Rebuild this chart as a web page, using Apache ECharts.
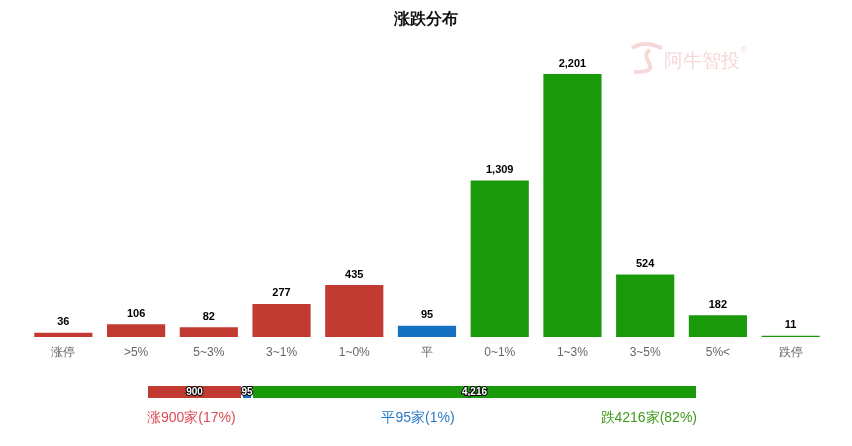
<!DOCTYPE html>
<html><head><meta charset="utf-8">
<script src="https://cdn.jsdelivr.net/npm/echarts@6/dist/echarts.min.js"></script>
<style>html,body{margin:0;padding:0;background:#fff}#c{width:852px;height:446px}</style>
</head><body><div id="c"></div>
<script>
var categories = ['涨停','>5%','5~3%','3~1%','1~0%','平','0~1%','1~3%','3~5%','5%<','跌停'];
var values = [36,106,82,277,435,95,1309,2201,524,182,11];
var groups = ['red','red','red','red','red','blue','green','green','green','green','green'];
var summaryNames = ['涨','平','跌'];
var summaryValues = [900,95,4216];
var summaryPct = ['17%','1%','82%'];

var RED='#c23b32', BLUE='#1471bf', GREEN='#1a9a0a';
var colorOf={red:RED,blue:BLUE,green:GREEN};
function fmt(v){return Number(v).toLocaleString('en-US');}

var chart = echarts.init(document.getElementById('c'));
var sumColors=[RED,BLUE,GREEN];
var summarySeries = summaryValues.map(function(v,i){
  return {type:'bar',stack:'s',xAxisIndex:1,yAxisIndex:1,barWidth:14,
    data:[v],itemStyle:{color:sumColors[i],borderColor:'#fff',borderWidth:1},
    label:{show:true,position:'inside',formatter:function(p){return fmt(p.value);},
      color:'#fff',fontSize:10,fontWeight:'bold',textBorderColor:'#000',textBorderWidth:2},
    silent:true,animation:false};
});
chart.setOption({
  animation:false,
  title:{text:'涨跌分布',left:'center',top:7,textStyle:{fontSize:16,fontWeight:'bold',color:'#111'}},
  grid:[{left:27,right:25,top:74,bottom:109},{left:147,width:550,top:385,height:14}],
  xAxis:[
    {type:'category',data:categories,gridIndex:0,axisLine:{show:false},axisTick:{show:false},
      axisLabel:{color:'#666',fontSize:12,margin:10}},
    {type:'value',gridIndex:1,min:0,max:summaryValues.reduce(function(a,b){return a+b;},0),show:false}
  ],
  yAxis:[
    {type:'value',gridIndex:0,min:0,max:function(v){return v.max;},show:false},
    {type:'category',gridIndex:1,data:['a'],show:false}
  ],
  series:[{type:'bar',xAxisIndex:0,yAxisIndex:0,barWidth:'80%',
    data:values.map(function(v,i){return {value:v,itemStyle:{color:colorOf[groups[i]]}};}),
    label:{show:true,position:'top',distance:5,formatter:function(p){return fmt(p.value);},
      color:'#000',fontSize:11,fontWeight:'bold'}}].concat(summarySeries),
  graphic:[
    {type:'text',x:147,y:411,style:{text:summaryNames[0]+summaryValues[0]+'家('+summaryPct[0]+')',fill:'#dd4a52',font:'14px sans-serif'}},
    {type:'text',x:418,y:411,style:{text:summaryNames[1]+summaryValues[1]+'家('+summaryPct[1]+')',fill:'#2a79c6',font:'14px sans-serif',align:'center'}},
    {type:'text',x:697,y:411,style:{text:summaryNames[2]+summaryValues[2]+'家('+summaryPct[2]+')',fill:'#3e9a1a',font:'14px sans-serif',align:'right'}},
    {type:'text',x:664,y:52,z:-1,style:{text:'阿牛智投',fill:'#f7d8d8',font:'19px sans-serif'}},
    {type:'text',x:740,y:46,z:-1,style:{text:'®',fill:'#f7d8d8',font:'9px sans-serif'}},
    {type:'bezierCurve',z:-1,shape:{x1:632,y1:48,x2:662,y2:48,cpx1:645,cpy1:40,cpx2:655,cpy2:46},style:{stroke:'#f7d8d8',lineWidth:4}},
    {type:'bezierCurve',z:-1,shape:{x1:650,y1:50,x2:634,y2:72,cpx1:636,cpy1:58,cpx2:668,cpy2:72},style:{stroke:'#f7d8d8',lineWidth:4}}
  ]
});
</script></body></html>
